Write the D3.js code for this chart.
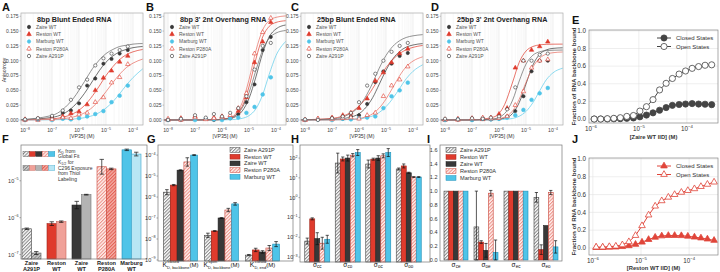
<!DOCTYPE html>
<html><head><meta charset="utf-8">
<script src="https://cdn.jsdelivr.net/npm/d3@7"></script>
<style>body{margin:0;background:#fff} text{font-family:"Liberation Sans",Arial,sans-serif}</style>
</head><body><script>
// ================= DATA =================
const seriesNames = ["Zaire WT","Reston WT","Marburg WT","Reston P280A","Zaire A291P"];
const panelTitles = ["8bp Blunt Ended RNA","8bp 3' 2nt Overhang RNA","25bp Blunt Ended RNA","25bp 3' 2nt Overhang RNA"];
const concPoints = [1e-8,3e-8,1e-7,2.5e-7,5e-7,1e-6,2e-6,4e-6,8e-6,1.6e-5,3.2e-5,6.4e-5];
const concFit = [6.3e-9,1e-7,6.3e-7,1.6e-6,3.2e-6,5.6e-6,1e-5,1.8e-5,3.2e-5,5.6e-5,1e-4,2.3e-4];
const anisoTicks = [0,0.025,0.05,0.075,0.1,0.125,0.15,0.175];
const concTickExps = [-8,-7,-6,-5,-4];

const ptsA = [
 [0.0,0.002,0.005,0.012,0.016,0.028,0.058,0.07,0.095,0.103,0.112,0.118],
 [0.001,0.0,0.003,0.006,0.011,0.014,0.026,0.05,0.071,0.083,0.098,0.108],
 [0.0,0.001,0.0,0.002,0.001,0.003,0.006,0.01,0.015,0.03,0.041,0.058],
 [0.0,0.002,0.001,0.004,0.003,0.009,0.012,0.03,0.038,0.063,0.072,0.094],
 [0.001,0.003,0.007,0.016,0.034,0.055,0.068,0.092,0.104,0.112,0.118,0.124]];
const fitA = [
 [.0003,.0043,.023,.045,.066,.083,.0975,.108,.115,.119,.122,.124],
 [.0001,.0019,.011,.0245,.041,.057,.075,.090,.102,.110,.115,.119],
 [0,.0003,.0016,.0038,.0074,.0124,.0201,.0309,.0443,.0585,.0715,.0863],
 [.0001,.0009,.0052,.0121,.0217,.0334,.0478,.0632,.0772,.0882,.0959,.1028],
 [.0005,.0077,.037,.065,.087,.101,.112,.119,.124,.126,.128,.129]];
const ptsB = [
 [0.001,0.0,0.003,0.002,0.0,0.004,0.003,0.01,0.03,0.06,0.118,0.14],
 [0.0,0.003,0.006,0.002,0.004,0.006,0.005,0.015,0.038,0.097,0.132,0.165],
 [0.0,0.001,0.0,0.002,0.001,0.0,0.003,0.004,0.012,0.022,0.043,0.072],
 [0.002,0.0,0.004,0.001,0.003,0.004,0.008,0.02,0.045,0.112,0.148,0.172],
 [0.0,0.002,0.008,0.004,0.01,0.006,0.012,0.02,0.04,0.085,0.125,0.13]];
const fitB = [
 [0,0,.0003,.0017,.0057,.0151,.0363,.0727,.1128,.1403,.1536,.1603],
 [0,0,.0003,.0021,.0081,.023,.0561,.103,.140,.158,.1646,.1675],
 [0,0,.0001,.0003,.001,.0027,.0073,.0188,.0426,.0771,.1086,.1327],
 [0,0,.0004,.0027,.0104,.0292,.0681,.117,.152,.1676,.1732,.1756],
 [0,0,.0005,.0024,.0079,.0204,.0462,.0838,.118,.1379,.1467,.151]];
const ptsC = [
 [0.0,0.001,0.003,0.002,0.006,0.008,0.027,0.064,0.082,0.095,0.108,0.113],
 [0.0,0.002,0.004,0.008,0.012,0.02,0.036,0.066,0.08,0.097,0.112,0.12],
 [0.0,0.001,0.0,0.002,0.001,0.003,0.004,0.006,0.02,0.04,0.05,0.063],
 [0.0,0.002,0.001,0.003,0.004,0.002,0.008,0.012,0.04,0.058,0.068,0.09],
 [0.001,0.0,0.003,0.006,0.012,0.03,0.058,0.078,0.1,0.115,0.125,0.13]];
const fitC = [
 [0,.0006,.0062,.0185,.0376,.0602,.0839,.1032,.1157,.1229,.1265,.1289],
 [.0002,.0028,.0159,.0335,.0531,.0713,.0884,.1023,.1121,.1185,.1225,.1258],
 [0,.0001,.001,.0031,.0068,.0126,.0224,.0365,.0534,.0696,.0821,.0932],
 [0,.0001,.0014,.0045,.0105,.0201,.0353,.055,.0747,.0899,.0994,.1066],
 [.0001,.0017,.0143,.0361,.0625,.0873,.1089,.1244,.1338,.1392,.142,.144]];
const ptsD = [
 [0.0,0.001,0.0,0.003,0.001,0.002,0.006,0.015,0.04,0.082,0.1,0.1],
 [0.0,0.002,0.003,0.001,0.004,0.01,0.02,0.088,0.1,0.118,0.124,0.132],
 [0.0,0.001,0.0,0.002,0.001,0.002,0.004,0.008,0.017,0.034,0.045,0.054],
 [0.001,0.0,0.002,0.004,0.002,0.003,0.006,0.025,0.048,0.088,0.1,0.102],
 [0.002,0.001,0.003,0.002,0.004,0.006,0.018,0.055,0.1,0.1,0.11,0.112]];
const fitD = [
 [0,0,.0005,.003,.0111,.0293,.061,.0927,.1109,.1182,.1208,.1218],
 [0,.0001,.0049,.0257,.064,.0973,.1163,.124,.1267,.1276,.1279,.128],
 [0,0,.0002,.0009,.0026,.0063,.0144,.0292,.0491,.0676,.0796,.0874],
 [0,0,.001,.0049,.0154,.035,.0634,.0892,.1043,.111,.1135,.1147],
 [0,0,.0018,.0107,.0336,.0657,.0943,.1093,.1151,.1171,.1177,.118]];

// E / J : fraction bound vs IID concentration
const concIID = [1.17e-6,1.6e-6,2.2e-6,3.0e-6,4.1e-6,5.6e-6,7.7e-6,1.05e-5,1.44e-5,1.97e-5,2.7e-5,3.7e-5,5.0e-5,6.9e-5,9.4e-5,1.29e-4,1.76e-4,2.4e-4,3.3e-4];
const zaireClosed = [0,0,0,0.002,0.004,0.008,0.012,0.025,0.045,0.07,0.1,0.13,0.155,0.165,0.17,0.175,0.17,0.168,0.163];
const zaireOpen = [0,0,0.004,0.008,0.015,0.03,0.04,0.09,0.14,0.22,0.33,0.405,0.46,0.51,0.545,0.575,0.595,0.61,0.615];
const restonClosed = [0.005,0.005,0.008,0.01,0.015,0.025,0.04,0.065,0.095,0.12,0.135,0.14,0.14,0.138,0.132,0.122,0.112,0.1,0.085];
const restonOpen = [0.01,0.01,0.015,0.02,0.035,0.07,0.14,0.25,0.37,0.47,0.53,0.57,0.6,0.625,0.645,0.665,0.69,0.715,0.74];
const fracTicks = [0,0.2,0.4,0.6,0.8,1.0];
const iidTickExps = [-6,-5,-4];

// F : K_D comparisons
const proteins = ["Zaire A291P","Reston WT","Zaire WT","Reston P280A","Marburg WT"];
const fGroupLabels = [["Zaire","A291P"],["Reston","WT"],["Zaire","WT"],["Reston","P280A"],["Marburg","WT"]];
const kdGlobal = [5.0e-7,6.9e-7,2.2e-6,2.4e-5,6.9e-5];
const kdGlobalErr = [0.02,0.05,0.1,0.2,0.02];      // decades
const kdThiol = [1.1e-7,7.8e-7,4.2e-6,2.1e-5,5.3e-5];
const kdThiolErr = [0.04,0.02,0.01,0.02,0.05];
const fTickExps = [-7,-6,-5];

// G : model K_D values
const gParams = [["D, backbone","closed"],["D, backbone","open"],["D, end","closed"]];
const kdClosedBackbone = [1.7e-6,3.7e-6,1.9e-5,4.7e-5,1.0e-4];
const kdOpenBackbone = [1.5e-8,2.4e-8,1.0e-7,2.4e-7,4.7e-7];
const kdClosedEnd = [1.7e-9,3.0e-9,2.4e-9,3.7e-9,5.7e-9];
const gErr = [[0.12,0.03,0.02,0.2,0.02],[0.1,0.02,0.02,0.08,0.06],[0.03,0.08,0.06,0.12,0.12]];
const gTickExps = [-9,-8,-7,-6,-5,-4];

// H : cooperativity (log)
const hParams = ["cc","co","oc","oo"];
const sigmaCC = [6.4e-3,0.085,8.5e-3,5e-3,7.9e-3];
const sigmaCO = [56,90,100,140,190];
const sigmaOC = [50,88,100,130,190];
const sigmaOO = [28,40,18,11,11];
const hErr = [[0.15,0.05,0.3,0.3,0.2],[0.5,0.1,0.15,0.08,0.15],[0.2,0.05,0.12,0.1,0.2],[0.05,0.1,0.03,0.02,0.02]];
const hTickExps = [-3,-2,-1,0,1,2];

// I : end cooperativity (linear)
const iParams = ["ce","oe","ec","eo"];
const sigmaCE = [1,1,1,1,1];
const sigmaOE = [0.48,0.26,0.14,0.97,0.11];
const sigmaEC = [1,1,1,1,1];
const sigmaEO = [0.91,0.15,0.5,0.98,0.19];
const iErr = [[0,0,0,0,0],[0.52,0.02,0.1,0.04,0.18],[0,0,0,0,0],[0.07,0.07,0.0,0.03,0.09]];
const iTicks = [0,0.2,0.4,0.6,0.8,1.0,1.2,1.4,1.6];

// ================= STYLE =================
const red="#df3b2d", dark="#383838", cyan="#4fc4e8", redL="#f0a199", greyL="#b3b3b3", cyanL="#b8e6f4";
const svg = d3.select("body").append("svg").attr("width",720).attr("height",272);
const defs = svg.append("defs");
function hatch(id,bg,fg){
  const p=defs.append("pattern").attr("id",id).attr("patternUnits","userSpaceOnUse")
    .attr("width",2.4).attr("height",2.4).attr("patternTransform","rotate(45)");
  p.append("rect").attr("width",2.4).attr("height",2.4).attr("fill",bg);
  p.append("line").attr("x1",0.6).attr("y1",0).attr("x2",0.6).attr("y2",2.4).attr("stroke",fg).attr("stroke-width",0.75);
}
hatch("hG","#fff","#555"); hatch("hR","#fff3f1","#e5675b");
hatch("hG2","#cfcfcf","#666"); hatch("hR2","#f3b0a8","#df3b2d");
const barFill = ["url(#hG)",red,dark,"url(#hR)",cyan];
const barStroke = ["#444","#9e2419","#222","#c9483c","#1e90b8"];
const thiolFill = ["url(#hG2)",redL,greyL,"url(#hR2)",cyanL];
const thiolStroke = ["#555","#c8665c","#777","#c9483c","#3aa6cc"];
const serColor = [dark,red,cyan,red,dark];
const serFilled = [true,true,true,false,false];
const serShape = [d3.symbolCircle,d3.symbolTriangle,d3.symbolCircle,d3.symbolTriangle,d3.symbolCircle];
const fitColor = [dark,red,"#5ccbe9","#e66a5e","#666"];
const axisCol = "#999";

function pow10(sel, e, fs){
  sel.append("tspan").text("10");
  sel.append("tspan").attr("dy",-fs*0.45).attr("font-size",fs*0.68).text(e<0?"\u2212"+Math.abs(e):String(e));
}
function letter(t,x,y){ svg.append("text").attr("x",x).attr("y",y).attr("font-size",11).attr("font-weight","bold").attr("fill","#111").text(t); }
function box(x0,y0,x1,y1,col){ svg.append("rect").attr("x",x0).attr("y",y0).attr("width",x1-x0).attr("height",y1-y0).attr("fill","none").attr("stroke",col||axisCol).attr("stroke-width",0.7); }

// ================= TOP ROW A-D =================
const topX0 = [21,164,301,441];
const allPts=[ptsA,ptsB,ptsC,ptsD], allFits=[fitA,fitB,fitC,fitD];
["A","B","C","D"].forEach((L,pi)=>{
  const x0=topX0[pi], x1=x0+122, yT=13, yB=125;
  const x=d3.scaleLog().domain([10**-8.15,10**-3.63]).range([x0,x1]);
  const y=d3.scaleLinear().domain([-0.0085,0.1805]).range([yB,yT]);
  const g=svg.append("g");
  const minors=[]; for(let k=-9;k<=-4;k++) for(let m=1;m<=9;m++){const v=m*10**k; if(v>x.domain()[0]&&v<x.domain()[1]) minors.push({v,m});}
  g.selectAll("line.gr").data(minors).join("line").attr("x1",d=>x(d.v)).attr("x2",d=>x(d.v))
    .attr("y1",yT).attr("y2",yB).attr("stroke",d=>d.m===1?"#dcdcdc":"#eeeeee").attr("stroke-width",0.5);
  const cid="clip"+L;
  defs.append("clipPath").attr("id",cid).append("rect").attr("x",x0).attr("y",yT).attr("width",122).attr("height",yB-yT);
  const line=d3.line().x((d,i)=>x(concFit[i])).y(d=>y(d)).curve(d3.curveMonotoneX);
  allFits[pi].forEach((f,si)=>{
    g.append("path").attr("d",line(f)).attr("fill","none").attr("stroke",fitColor[si]).attr("stroke-width",0.7).attr("clip-path",`url(#${cid})`);
  });
  allPts[pi].forEach((p,si)=>{
    const sym=d3.symbol().type(serShape[si]).size(si===2?11:8.5);
    g.selectAll(null).data(p).join("path").attr("transform",(d,i)=>`translate(${x(concPoints[i])},${y(d)})`)
      .attr("d",sym).attr("fill",serFilled[si]?serColor[si]:"#fff").attr("stroke",serColor[si]).attr("stroke-width",0.6);
  });
  box(x0,yT,x1,yB,"#aaa");
  g.selectAll("text.yt").data(anisoTicks).join("text").attr("x",x0-2.5).attr("y",d=>y(d)+1.8)
    .attr("text-anchor","end").attr("font-size",5).attr("fill","#444").text(d3.format(".3f"));
  g.selectAll("line.yt").data(anisoTicks).join("line").attr("x1",x0-1.5).attr("x2",x0).attr("y1",d=>y(d)).attr("y2",d=>y(d)).attr("stroke","#888").attr("stroke-width",0.5);
  concTickExps.forEach(e=>{
    const t=g.append("text").attr("x",x(10**e)).attr("y",yB+7).attr("text-anchor","middle").attr("font-size",5.2).attr("fill","#444");
    pow10(t,e,5.2);
  });
  g.append("text").attr("x",(x0+x1)/2).attr("y",138).attr("text-anchor","middle").attr("font-size",5.2).attr("fill","#333").text("[VP35] (M)");
  g.append("text").attr("x",x0+16).attr("y",22).attr("font-size",7.2).attr("font-weight","bold").attr("fill","#222").text(panelTitles[pi]);
  seriesNames.forEach((n,si)=>{
    const ly=27+si*7.25;
    g.append("line").attr("x1",x0+8).attr("x2",x0+8).attr("y1",ly-2.2).attr("y2",ly+2.2).attr("stroke",serColor[si]).attr("stroke-width",0.5);
    g.append("path").attr("transform",`translate(${x0+8},${ly})`).attr("d",d3.symbol().type(serShape[si]).size(9))
      .attr("fill",serFilled[si]?serColor[si]:"#fff").attr("stroke",serColor[si]).attr("stroke-width",0.6);
    g.append("text").attr("x",x0+15).attr("y",ly+1.8).attr("font-size",5).attr("fill","#555").text(n);
  });
  letter(L,[2,146,291,431][pi],11);
});
svg.append("text").attr("transform","translate(6,70) rotate(-90)").attr("text-anchor","middle").attr("font-size",5.2).attr("fill","#333").text("Anisotropy");

// ================= E and J =================
function fracPanel(L, yT, yB, yDom, xDom, closed, open, col, shape, symSize, xlabel, letY){
  const x0=589,x1=718;
  const x=d3.scaleLog().domain(xDom).range([x0,x1]);
  const y=d3.scaleLinear().domain(yDom).range([yB,yT]);
  const g=svg.append("g");
  g.selectAll("line.hg").data(fracTicks).join("line").attr("x1",x0).attr("x2",x1).attr("y1",d=>y(d)).attr("y2",d=>y(d)).attr("stroke","#e3e3e3").attr("stroke-width",0.6);
  g.selectAll("line.vg").data(iidTickExps).join("line").attr("x1",d=>x(10**d)).attr("x2",d=>x(10**d)).attr("y1",yT).attr("y2",yB).attr("stroke","#e3e3e3").attr("stroke-width",0.6);
  box(x0,yT,x1,yB,"#888");
  const line=d3.line().x((d,i)=>x(concIID[i])).y(d=>y(d));
  [[closed,true],[open,false]].forEach(([arr,filled])=>{
    g.append("path").attr("d",line(arr)).attr("fill","none").attr("stroke",col).attr("stroke-width",1);
    g.selectAll(null).data(arr).join("path").attr("transform",(d,i)=>`translate(${x(concIID[i])},${y(d)})`)
      .attr("d",d3.symbol().type(shape).size(symSize)).attr("fill",filled?col:"#fff").attr("stroke",col).attr("stroke-width",0.8);
  });
  g.selectAll("text.yt").data(fracTicks).join("text").attr("x",x0-3).attr("y",d=>y(d)+2.2).attr("text-anchor","end").attr("font-size",6.3).attr("fill","#333").text(d3.format(".1f"));
  iidTickExps.forEach(e=>{ const t=g.append("text").attr("x",x(10**e)).attr("y",yB+8).attr("text-anchor","middle").attr("font-size",6.3).attr("fill","#333"); pow10(t,e,6.3); });
  g.append("text").attr("x",(x0+x1)/2).attr("y",yB+(L==="E"?16:15)).attr("text-anchor","middle").attr("font-size",5.8).attr("font-weight","bold").attr("fill","#333").text(xlabel);
  g.append("text").attr("transform",`translate(576,${(yT+yB)/2}) rotate(-90)`).attr("text-anchor","middle").attr("font-size",6.2).attr("font-weight","bold").attr("fill","#333").text("Fraction of RNA backbone bound");
  ["Closed States","Open States"].forEach((n,k)=>{
    const ly=yT+8+k*8.5;
    g.append("line").attr("x1",657).attr("x2",671).attr("y1",ly).attr("y2",ly).attr("stroke",col).attr("stroke-width",1);
    g.append("path").attr("transform",`translate(664,${ly})`).attr("d",d3.symbol().type(shape).size(symSize)).attr("fill",k===0?col:"#fff").attr("stroke",col).attr("stroke-width",0.8);
    g.append("text").attr("x",676).attr("y",ly+2).attr("font-size",6).attr("fill","#333").text(n);
  });
  letter(L,572,letY);
}
fracPanel("E",30,123,[-0.045,1.01],[10**-6.04,10**-3.35],zaireClosed,zaireOpen,"#444",d3.symbolCircle,30,"[Zaire WT IID] (M)",24);
fracPanel("J",158,255,[-0.079,1.011],[10**-6.08,10**-3.40],restonClosed,restonOpen,"#e0453a",d3.symbolTriangle,19,"[Reston WT IID] (M)",143);

function errV(g,cx,ya,yb,w){
  g.append("line").attr("x1",cx).attr("x2",cx).attr("y1",ya).attr("y2",yb).attr("stroke","#111").attr("stroke-width",0.7);
  [ya,yb].forEach(yy=>g.append("line").attr("x1",cx-w).attr("x2",cx+w).attr("y1",yy).attr("y2",yy).attr("stroke","#111").attr("stroke-width",0.7));
}

// ================= F =================
(function(){
  const x0=21,x1=147,yT=145,yB=259;
  const g=svg.append("g");
  const y=d3.scaleLog().domain([10**-7.12,10**-4.03]).range([yB,yT]);
  const xo=d3.scaleBand().domain(d3.range(5)).range([19,144]).paddingInner(0.24).paddingOuter(0.12);
  const xi=d3.scaleBand().domain([0,1]).range([0,xo.bandwidth()]);
  [[kdGlobal,kdGlobalErr,barFill,barStroke],[kdThiol,kdThiolErr,thiolFill,thiolStroke]].forEach(([vals,err,fill,st],k)=>{
    vals.forEach((v,i)=>{
      const bx=xo(i)+xi(k);
      g.append("rect").attr("x",bx).attr("y",y(v)).attr("width",xi.bandwidth()).attr("height",yB-y(v)).attr("fill",fill[i]).attr("stroke",st[i]).attr("stroke-width",0.6);
      errV(g,bx+xi.bandwidth()/2,y(v*10**err[i]),y(v/10**err[i]),2.2);
    });
  });
  box(x0,yT,x1,yB,"#777");
  fTickExps.forEach(e=>{ const t=g.append("text").attr("x",x0-2.5).attr("y",y(10**e)+2).attr("text-anchor","end").attr("font-size",5.5).attr("fill","#333"); pow10(t,e,5.5);
    g.append("line").attr("x1",x0-1.5).attr("x2",x0).attr("y1",y(10**e)).attr("y2",y(10**e)).attr("stroke","#555").attr("stroke-width",0.5);});
  fGroupLabels.forEach((l,i)=>{ l.forEach((s,j)=>g.append("text").attr("x",xo(i)+xo.bandwidth()/2).attr("y",265+j*5.6).attr("text-anchor","middle").attr("font-size",5.6).attr("font-weight","bold").attr("fill","#222").text(s)); });
  [[barFill,barStroke,154],[thiolFill,thiolStroke,168]].forEach(([fill,st,ly])=>{
    fill.forEach((f,i)=>g.append("rect").attr("x",23+i*6.4).attr("y",ly-2.5).attr("width",6.2).attr("height",5).attr("fill",f).attr("stroke",st[i]).attr("stroke-width",0.4));
  });
  const t1=g.append("text").attr("x",58).attr("y",152.5).attr("font-size",5).attr("fill","#333");
  t1.append("tspan").text("K"); t1.append("tspan").attr("font-size",3.6).attr("dy",1).text("D"); t1.append("tspan").attr("dy",-1).text(" from");
  g.append("text").attr("x",58).attr("y",158).attr("font-size",5).attr("fill","#333").text("Global Fit");
  const t2=g.append("text").attr("x",58).attr("y",163.5).attr("font-size",5).attr("fill","#333");
  t2.append("tspan").text("K"); t2.append("tspan").attr("font-size",3.6).attr("dy",1).text("1/2"); t2.append("tspan").attr("dy",-1).text(" for");
  ["C296 Exposure","from Thiol","Labeling"].forEach((s,j)=>g.append("text").attr("x",58).attr("y",169.5+j*5.8).attr("font-size",5).attr("fill","#333").text(s));
  letter("F",2,143);
})();

// ================= G =================
(function(){
  const x0=158,x1=293,yT=145,yB=261;
  const g=svg.append("g");
  const y=d3.scaleLog().domain([10**-9.05,10**-3.52]).range([yB,yT]);
  const xo=d3.scaleBand().domain(d3.range(3)).range([160,283]).paddingInner(0.17).paddingOuter(0.085);
  const xi=d3.scaleBand().domain(d3.range(5)).range([0,xo.bandwidth()]);
  [kdClosedBackbone,kdOpenBackbone,kdClosedEnd].forEach((vals,gi)=>{
    vals.forEach((v,i)=>{
      const bx=xo(gi)+xi(i);
      g.append("rect").attr("x",bx).attr("y",y(v)).attr("width",xi.bandwidth()).attr("height",yB-y(v)).attr("fill",barFill[i]).attr("stroke",barStroke[i]).attr("stroke-width",0.6);
      errV(g,bx+xi.bandwidth()/2,y(v*10**gErr[gi][i]),y(v/10**gErr[gi][i]),1.8);
    });
  });
  box(x0,yT,x1,yB,"#777");
  gTickExps.forEach(e=>{ const t=g.append("text").attr("x",x0-2.5).attr("y",y(10**e)+2).attr("text-anchor","end").attr("font-size",5.5).attr("fill","#333"); pow10(t,e,5.5);
    g.append("line").attr("x1",x0-1.5).attr("x2",x0).attr("y1",y(10**e)).attr("y2",y(10**e)).attr("stroke","#555").attr("stroke-width",0.5);});
  gParams.forEach(([sub,sup],gi)=>{
    const cx=xo(gi)+xo.bandwidth()/2;
    const t=g.append("text").attr("y",267).attr("font-size",6.8).attr("fill","#111");
    const k=t.append("tspan").text("K");
    t.append("tspan").attr("font-size",4).attr("dy",1.5).text(sub);
    t.append("tspan").attr("font-size",6).attr("dy",-1.5).text("(M)");
    const w=t.node().getComputedTextLength();
    const kw=k.node().getComputedTextLength();
    t.attr("x",cx-w/2);
    g.append("text").attr("x",cx-w/2+kw+0.4).attr("y",262.5).attr("font-size",4).attr("fill","#111").text(sup);
  });
  proteins.forEach((n,i)=>{
    const ly=150+i*6.7;
    g.append("rect").attr("x",230).attr("y",ly-2.4).attr("width",10).attr("height",4.8).attr("fill",barFill[i]).attr("stroke",barStroke[i]).attr("stroke-width",0.5);
    g.append("text").attr("x",244).attr("y",ly+2).attr("font-size",5.6).attr("fill","#333").text(n);
  });
  letter("G",147,143);
})();

// ================= H =================
(function(){
  const x0=300,x1=430,yT=145,yB=262;
  const g=svg.append("g");
  const y=d3.scaleLog().domain([10**-3.25,10**2.66]).range([yB,yT]);
  const xo=d3.scaleBand().domain(d3.range(4)).range([302,424]).paddingInner(0.18).paddingOuter(0.09);
  const xi=d3.scaleBand().domain(d3.range(5)).range([0,xo.bandwidth()]);
  [sigmaCC,sigmaCO,sigmaOC,sigmaOO].forEach((vals,gi)=>{
    vals.forEach((v,i)=>{
      const bx=xo(gi)+xi(i);
      g.append("rect").attr("x",bx).attr("y",y(v)).attr("width",xi.bandwidth()).attr("height",yB-y(v)).attr("fill",barFill[i]).attr("stroke",barStroke[i]).attr("stroke-width",0.6);
      errV(g,bx+xi.bandwidth()/2,y(v*10**hErr[gi][i]),y(v/10**hErr[gi][i]),1.6);
    });
  });
  box(x0,yT,x1,yB,"#777");
  hTickExps.forEach(e=>{ const t=g.append("text").attr("x",x0-2.5).attr("y",y(10**e)+2).attr("text-anchor","end").attr("font-size",5.5).attr("fill","#333"); pow10(t,e,5.5);
    g.append("line").attr("x1",x0-1.5).attr("x2",x0).attr("y1",y(10**e)).attr("y2",y(10**e)).attr("stroke","#555").attr("stroke-width",0.5);});
  hParams.forEach((s,gi)=>{
    const t=g.append("text").attr("x",xo(gi)+xo.bandwidth()/2).attr("y",267).attr("text-anchor","middle").attr("font-size",6.5).attr("fill","#111");
    t.append("tspan").text("\u03c3"); t.append("tspan").attr("font-size",4.5).attr("dy",1.4).text(s);
  });
  letter("H",291,143);
})();

// ================= I =================
(function(){
  const x0=440,x1=562,yT=145,yB=261;
  const g=svg.append("g");
  const y=d3.scaleLinear().domain([-0.015,1.67]).range([yB,yT]);
  const xo=d3.scaleBand().domain(d3.range(4)).range([441,561]).paddingInner(0.2).paddingOuter(0.1);
  const xi=d3.scaleBand().domain(d3.range(5)).range([0,xo.bandwidth()]);
  [sigmaCE,sigmaOE,sigmaEC,sigmaEO].forEach((vals,gi)=>{
    vals.forEach((v,i)=>{
      const bx=xo(gi)+xi(i);
      g.append("rect").attr("x",bx).attr("y",y(v)).attr("width",xi.bandwidth()).attr("height",y(0)-y(v)).attr("fill",barFill[i]).attr("stroke",barStroke[i]).attr("stroke-width",0.6);
      if(iErr[gi][i]>0) errV(g,bx+xi.bandwidth()/2,y(v+iErr[gi][i]),y(Math.max(0,v-iErr[gi][i])),1.6);
    });
  });
  box(x0,yT,x1,yB,"#777");
  g.selectAll("text.yt").data(iTicks).join("text").attr("x",x0-2.5).attr("y",d=>y(d)+2).attr("text-anchor","end").attr("font-size",5.5).attr("fill","#333").text(d3.format(".1f"));
  iParams.forEach((s,gi)=>{
    const t=g.append("text").attr("x",xo(gi)+xo.bandwidth()/2).attr("y",267).attr("text-anchor","middle").attr("font-size",6.5).attr("fill","#111");
    t.append("tspan").text("\u03c3"); t.append("tspan").attr("font-size",4.5).attr("dy",1.4).text(s);
  });
  proteins.forEach((n,i)=>{
    const ly=150+i*7;
    g.append("rect").attr("x",446).attr("y",ly-2.4).attr("width",10).attr("height",4.8).attr("fill",barFill[i]).attr("stroke",barStroke[i]).attr("stroke-width",0.5);
    g.append("text").attr("x",460).attr("y",ly+2).attr("font-size",5.6).attr("fill","#333").text(n);
  });
  letter("I",427,143);
})();
</script></body></html>
